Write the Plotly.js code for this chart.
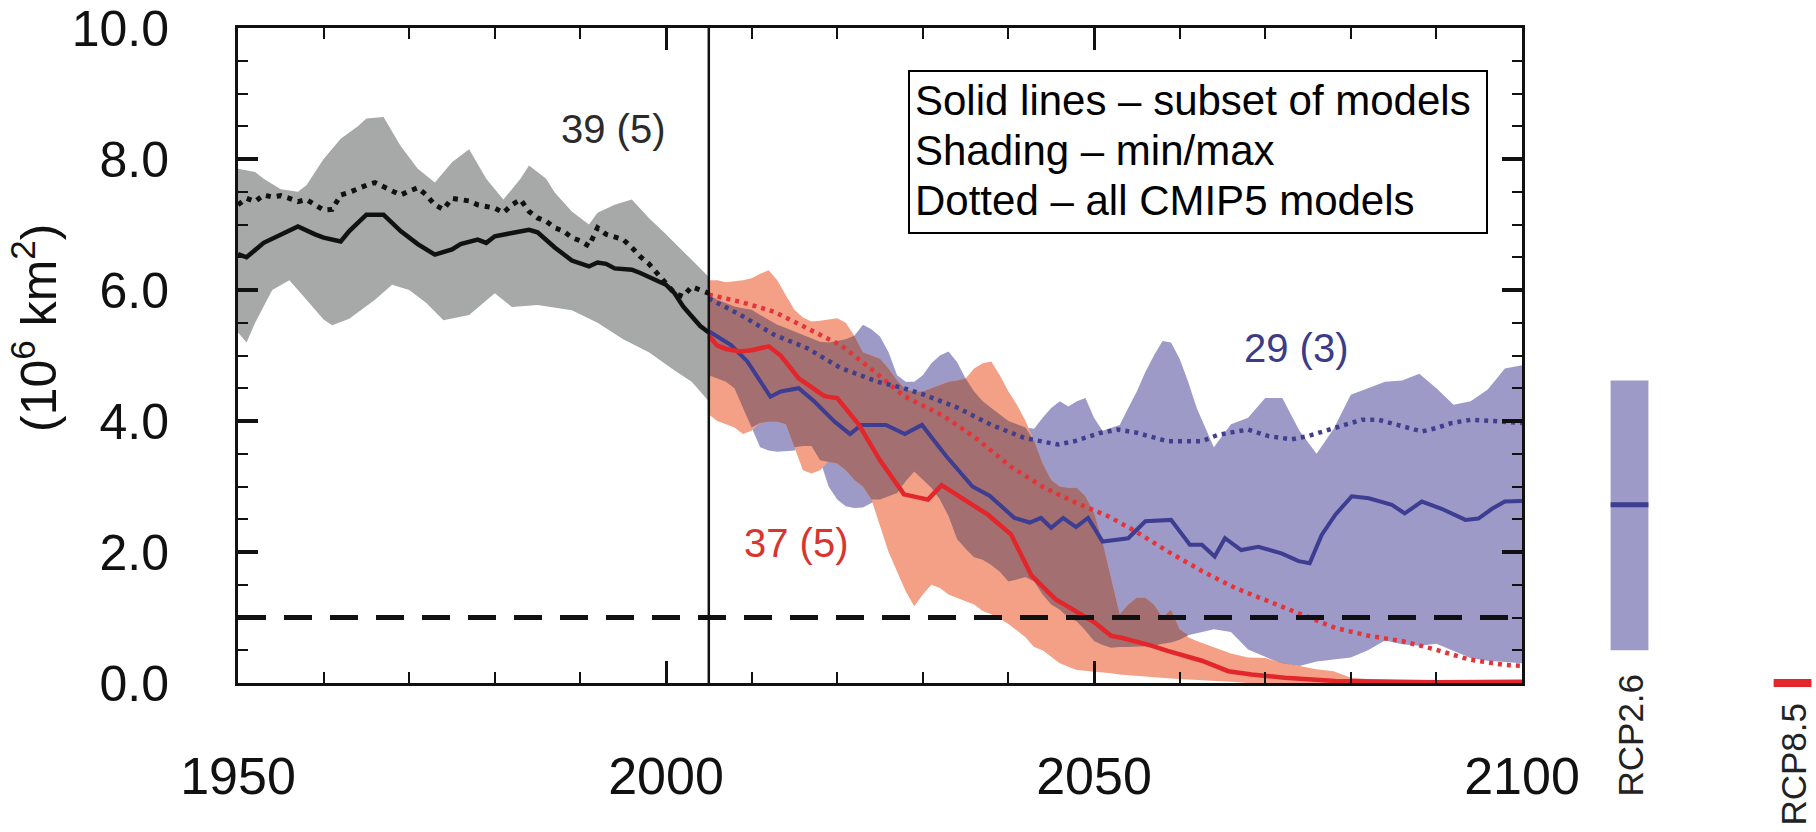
<!DOCTYPE html>
<html>
<head>
<meta charset="utf-8">
<script src="https://cdn.plot.ly/plotly-3.0.1.min.js"></script>
<style>
html,body{margin:0;padding:0;background:#ffffff;}
#chart{width:1816px;height:832px;}
</style>
</head>
<body>
<div id="chart"></div>
<script>
// ---------------- DATA ----------------
// Historical, subset-of-models mean (solid black)
const histMeanYears = [1950,1951,1953,1955,1957,1959,1960,1962,1963,1965,1967,1969,1971,1973,1975,1976,1978,1979,1980,1982,1984,1985,1987,1989,1991,1992,1993,1994,1996,1997,1998,2000,2001,2002,2003,2004,2005];
const histMean = [6.55,6.5,6.72,6.85,6.97,6.85,6.8,6.74,6.9,7.15,7.15,6.9,6.7,6.54,6.62,6.7,6.77,6.72,6.82,6.87,6.92,6.88,6.65,6.45,6.36,6.42,6.4,6.33,6.31,6.26,6.2,6.08,5.95,5.75,5.6,5.45,5.35];

// Historical, all CMIP5 models (dotted black)
const histAllYears = [1950,1951,1952,1953,1954,1955,1956,1957,1958,1959,1960,1961,1962,1963,1964,1965,1966,1967,1968,1969,1970,1971,1972,1973,1974,1975,1976,1977,1978,1979,1980,1981,1982,1983,1984,1985,1986,1987,1988,1989,1990,1991,1992,1993,1994,1995,1996,1997,1998,1999,2000,2001,2002,2003,2004,2005];
const histAll = [7.3,7.4,7.35,7.45,7.42,7.44,7.4,7.35,7.38,7.3,7.22,7.23,7.45,7.49,7.55,7.6,7.64,7.58,7.5,7.45,7.51,7.56,7.45,7.3,7.23,7.4,7.38,7.36,7.3,7.28,7.25,7.18,7.3,7.38,7.2,7.1,7.05,6.95,6.9,6.8,6.75,6.67,6.95,6.85,6.8,6.77,6.65,6.51,6.4,6.25,6.1,5.95,5.9,6.05,6.0,5.95];

// Historical min/max shading (grey)
const histUpperYears = [1950,1952,1953,1955,1957,1958,1960,1962,1964,1965,1967,1969,1971,1973,1975,1977,1979,1981,1983,1984,1986,1987,1989,1991,1992,1994,1996,1998,2000,2002,2003,2005];
const histUpper = [7.85,7.8,7.7,7.54,7.5,7.6,8.0,8.31,8.5,8.62,8.64,8.2,7.85,7.64,7.95,8.15,7.7,7.38,7.7,7.9,7.7,7.49,7.2,7.0,7.18,7.3,7.38,7.1,6.85,6.6,6.46,6.2];
const histLowerYears = [1950,1951,1952,1954,1956,1958,1960,1961,1963,1966,1968,1970,1972,1974,1977,1980,1982,1985,1989,1992,1995,1998,2001,2003,2005];
const histLower = [5.35,5.2,5.5,6.0,6.15,5.85,5.55,5.46,5.56,5.85,6.08,6.0,5.8,5.54,5.62,5.95,5.74,5.77,5.69,5.5,5.25,5.05,4.77,4.6,4.3];

// Future min/max shading, RCP8.5 (red) and RCP2.6 (blue), on common years
const futureYears = [2005,2006,2007,2008,2009,2010,2011,2012,2013,2014,2015,2016,2017,2018,2019,2020,2021,2022,2023,2024,2025,2026,2027,2028,2029,2030,2031,2032,2033,2034,2035,2036,2037,2038,2039,2040,2041,2042,2043,2044,2045,2046,2047,2048,2049,2050,2051,2052,2053,2054,2055,2056,2057,2058,2059,2060,2061,2062,2064,2066,2068,2070,2072,2074,2076,2078,2080,2082,2084,2086,2088,2090,2092,2094,2096,2098,2100];
const rcp85Max = [6.15,6.15,6.12,6.13,6.15, 6.18,6.25,6.3,6.15,5.92, 5.7,5.58,5.52,5.53,5.55, 5.57,5.5,5.3,5.05,5.0, 4.95,4.8,4.62,4.48,4.45, 4.45,4.5,4.55,4.6,4.62, 4.65,4.8,4.88,4.91,4.7, 4.45,4.25,4.0,3.7,3.35, 3.1,3.0,2.98,2.98,2.85, 2.6,2.15,1.6,1.05,1.2, 1.3,1.3,1.2,1.0,1.12, 0.82,0.7,0.64,0.54,0.45, 0.39,0.38,0.31,0.26,0.21, 0.18,0.08,0.06,0.05,0.04, 0.03,0.03,0.02,0.02,0.02, 0.02,0.02];
const rcp85Min = [4.1,4.0,3.95,3.9,3.8, 3.85,3.97,3.99,3.99,3.95, 3.6,3.25,3.2,3.25,3.38, 3.35,3.25,3.1,3.0,2.8, 2.4,2.0,1.7,1.4,1.17, 1.35,1.5,1.45,1.35,1.3, 1.25,1.2,1.1,1.05,0.98, 0.9,0.8,0.7,0.55,0.5, 0.4,0.3,0.25,0.2,0.18, 0.17,0.16,0.15,0.13,0.12, 0.1,0.09,0.08,0.08,0.07, 0.06,0.05,0.04,0.03,0.02, 0,0,0,0,0, 0,0,0,0,0, 0,0,0,0,0, 0,0];
const rcp26Max = [5.92,5.85,5.8,5.75,5.72, 5.7,5.62,5.55,5.47,5.42, 5.37,5.32,5.27,5.21,5.2, 5.22,5.25,5.3,5.47,5.4, 5.29,5.05,4.7,4.6,4.6, 4.7,4.88,5.0,5.06,4.9, 4.65,4.45,4.3,4.2,4.1, 4.0,3.95,3.9,3.88,4.05, 4.2,4.3,4.22,4.3,4.35, 4.05,3.85,3.9,3.94,4.2, 4.45,4.75,5.0,5.22,5.2, 4.95,4.6,4.2,3.6,3.95, 4.05,4.35,4.35,3.85,3.5, 3.88,4.4,4.5,4.6,4.62, 4.72,4.5,4.25,4.3,4.48, 4.8,4.85];
const rcp26Min = [4.7,4.65,4.6,4.5,4.2, 3.9,3.6,3.55,3.53,3.54, 3.55,3.62,3.62,3.4,3.0, 2.8,2.7,2.67,2.68,2.75, 2.8,2.85,2.9,3.08,3.23, 3.1,2.98,2.8,2.55,2.2, 2.05,1.92,1.88,1.8,1.7, 1.55,1.58,1.62,1.55,1.35, 1.2,1.12,1.0,0.94,0.8, 0.64,0.58,0.54,0.55,0.55, 0.55,0.56,0.57,0.6,0.62, 0.66,0.73,0.76,0.82,0.78, 0.51,0.4,0.3,0.26,0.33, 0.36,0.39,0.5,0.65,0.59, 0.57,0.6,0.49,0.38,0.34, 0.32,0.3];

// Future subset-of-models means (solid)
const rcp85MeanYears = [2005,2006,2007,2008.7,2010,2012,2013.4,2015.5,2018.5,2020,2022.5,2025,2027.8,2030.6,2032.2,2035.3,2037.6,2040.3,2042.7,2045.5,2048.5,2050,2052,2053.2,2056.7,2058.6,2062.6,2065.7,2068.4,2072.3,2078.2,2085,2090,2100];
const rcp85Mean = [5.3,5.15,5.1,5.06,5.08,5.14,5.0,4.65,4.38,4.35,3.95,3.4,2.88,2.8,3.02,2.77,2.57,2.27,1.64,1.28,1.05,0.93,0.72,0.69,0.57,0.49,0.34,0.18,0.13,0.08,0.03,0.02,0.01,0.02];
const rcp26MeanYears = [2005,2007.6,2009.5,2012.2,2013.4,2015.5,2017.3,2019.7,2021.5,2022.8,2025.7,2027.9,2029.9,2032.7,2035.8,2037.8,2040.7,2042.5,2043.8,2045,2046.4,2047.9,2049.3,2051,2054,2056,2059,2061.2,2062.6,2064.1,2065.3,2067.2,2069.2,2071.9,2073.9,2075.2,2076.6,2078.2,2080.1,2082.1,2084.8,2086.3,2088.3,2090.6,2093.4,2094.9,2096.5,2098,2100];
const rcp26Mean = [5.37,5.16,4.91,4.37,4.45,4.5,4.3,3.99,3.8,3.94,3.94,3.8,3.94,3.47,3.0,2.86,2.52,2.45,2.52,2.37,2.52,2.38,2.52,2.16,2.21,2.47,2.49,2.11,2.11,1.93,2.21,2.03,2.08,1.98,1.86,1.83,2.26,2.57,2.85,2.82,2.72,2.59,2.77,2.66,2.49,2.51,2.66,2.77,2.78];

// Future all-CMIP5 means (dotted)
const rcp85AllYears = [2005,2008.7,2012.6,2016.5,2020.4,2024.3,2027.8,2029,2032.5,2036.4,2040.3,2044.2,2048.1,2051.6,2054.8,2058.6,2062.6,2066.5,2070.4,2074.3,2078.2,2082.1,2086,2089.9,2093.8,2097.7,2100];
const rcp85All = [5.93,5.82,5.67,5.42,5.16,4.76,4.38,4.3,4.07,3.72,3.3,2.98,2.74,2.55,2.32,2.01,1.71,1.45,1.25,1.05,0.84,0.72,0.64,0.51,0.36,0.28,0.26];
const rcp26AllYears = [2005,2008.7,2012.6,2016.5,2020.4,2024.7,2027.8,2030.2,2034.1,2038,2041.9,2045.8,2047.7,2050.8,2052.8,2055,2058.6,2062.6,2064.5,2068,2070.4,2073.1,2075,2078.2,2081.3,2083.2,2086,2088.3,2089.9,2091.8,2094.1,2096.9,2100];
const rcp26All = [5.87,5.62,5.32,5.11,4.81,4.6,4.5,4.4,4.2,3.94,3.74,3.64,3.69,3.82,3.87,3.82,3.69,3.69,3.79,3.87,3.77,3.72,3.77,3.89,4.02,4.02,3.92,3.84,3.89,3.97,4.02,4.0,3.97];

// Side bars: end-of-century range and mean of the subset
const rcpLabels = ['RCP2.6','RCP8.5'];
const rcpMin = [0.5, 0.0];
const rcpMax = [4.62, 0.0];
const rcpMean = [2.72, 0.0];

// Labels
const presentYear = 2005;
const iceFreeThreshold = 1.0;
const modelCounts = [
  {text:'39 (5)', year:1993.9, value:8.46, color:'#2b2b2b'},
  {text:'29 (3)', year:2073.6, value:5.11, color:'#3c3c86'},
  {text:'37 (5)', year:2015.2, value:2.14, color:'#d8352f'}
];
const legendLines = ['Solid lines \u2013 subset of models','Shading \u2013 min/max','Dotted \u2013 all CMIP5 models'];
const yTickValues = [0,2,4,6,8,10];
const xTickValues = [1950,2000,2050,2100];

// ---------------- STYLE ----------------
const W = 1816, H = 832;
const FONT = 'Liberation Sans, Arial, Helvetica, sans-serif';
const C = {
  grey:'#a6a9a7', salmon:'#f3a086', lavender:'#9e9ac8', overlap:'#a46f70',
  black:'#111111', red:'#e3262b', blue:'#3d3d92', redDot:'#e5333a', blueDot:'#3f3f8e'
};
const px = v => v / W;           // x pixel -> paper
const py = v => 1 - v / H;       // y pixel -> paper

function band(xs, hi, xsLo, lo, color) {
  return {
    x: xs.concat(xsLo.slice().reverse()),
    y: hi.concat(lo.slice().reverse()),
    type:'scatter', mode:'lines', fill:'toself', fillcolor:color,
    line:{width:0, color:color}, hoverinfo:'skip', showlegend:false
  };
}
const ovHi = futureYears.map((_, i) => Math.min(rcp85Max[i], rcp26Max[i]));
const ovLo = futureYears.map((_, i) => Math.max(rcp85Min[i], rcp26Min[i]));
const ovHiC = ovHi.map((v, i) => Math.max(v, ovLo[i]));

function line(xs, ys, color, width, dash) {
  return {x:xs, y:ys, type:'scatter', mode:'lines', line:{color:color, width:width, dash:dash||'solid'}, hoverinfo:'skip', showlegend:false};
}

const traces = [
  band(histUpperYears, histUpper, histLowerYears, histLower, C.grey),
  band(futureYears, rcp26Max, futureYears, rcp26Min, C.lavender),
  band(futureYears, rcp85Max, futureYears, rcp85Min, C.salmon),
  band(futureYears, ovHiC, futureYears, ovLo, C.overlap),
  line(histAllYears, histAll, C.black, 5, '5px,6px'),
  line(rcp85AllYears, rcp85All, C.redDot, 4.5, '4px,5px'),
  line(rcp26AllYears, rcp26All, C.blueDot, 4.5, '4px,5px'),
  line(histMeanYears, histMean, C.black, 4.5),
  line(rcp26MeanYears, rcp26Mean, C.blue, 4),
  line(rcp85MeanYears, rcp85Mean, C.red, 4.5),
  {
    x: rcpLabels, y: rcpMax.map((v, i) => v - rcpMin[i]), base: rcpMin,
    type:'bar', xaxis:'x2', yaxis:'y', width:0.232,
    marker:{color:[C.lavender, C.red], line:{width:0}}, hoverinfo:'skip', showlegend:false
  },
  {
    x: rcpLabels, y: rcpMean, type:'scatter', mode:'markers', xaxis:'x2', yaxis:'y',
    marker:{symbol:'line-ew', size:27, line:{width:[5, 8], color:[C.blue, C.red]}},
    hoverinfo:'skip', showlegend:false, cliponaxis:false
  }
];

const annotations = [
  {text:'(10<sup>6</sup> km<sup>2</sup>)', xref:'paper', yref:'paper', x:px(35), y:py(328),
   textangle:-90, showarrow:false, xanchor:'center', yanchor:'middle',
   font:{family:FONT, size:50, color:'#111'}}
].concat(modelCounts.map(m => ({
  text:m.text, x:m.year, y:m.value, xref:'x', yref:'y', showarrow:false,
  xanchor:'center', yanchor:'middle', font:{family:FONT, size:40, color:m.color}
}))).concat(legendLines.map((t, i) => ({
  text:t, xref:'paper', yref:'paper', x:px(913), y:py(101 + i * 49.5), showarrow:false,
  xanchor:'left', yanchor:'middle', font:{family:FONT, size:42, color:'#000'}
}))).concat(rcpLabels.map((t, i) => ({
  text:t, xref:'x2', yref:'paper', x:t, y:py([735, 764][i]), showarrow:false,
  textangle:-90, xanchor:'center', yanchor:'middle', font:{family:FONT, size:35, color:'#222'}
})));

const shapes = [
  {type:'line', xref:'x', yref:'y', x0:1950, x1:2100, y0:iceFreeThreshold, y1:iceFreeThreshold,
   line:{color:'#111', width:5, dash:'28px,18px'}},
  {type:'line', xref:'x', yref:'y', x0:presentYear, x1:presentYear, y0:0, y1:10,
   line:{color:'#111', width:2.5}},
  {type:'rect', xref:'paper', yref:'paper', x0:px(909), x1:px(1487), y0:py(233), y1:py(71),
   line:{color:'#000', width:2}, fillcolor:'#ffffff'}
];

const axisLine = {showline:true, linecolor:'#111', linewidth:3, mirror:'ticks', showgrid:false, zeroline:false,
  ticks:'inside', tickcolor:'#111', automargin:false, fixedrange:true};

const layout = {
  width:W, height:H, autosize:false,
  margin:{l:0, r:0, t:0, b:0, pad:0},
  paper_bgcolor:'#ffffff', plot_bgcolor:'#ffffff',
  showlegend:false,
  xaxis: Object.assign({}, axisLine, {
    domain:[px(238), px(1522)], range:[1950, 2100], anchor:'y',
    tickmode:'array', tickvals:xTickValues, ticktext:xTickValues.map(String),
    ticklen:22, tickwidth:3, ticklabelstandoff:46,
    tickfont:{family:FONT, size:52, color:'#111'},
    minor:{dtick:10, tick0:1950, ticks:'inside', ticklen:11, tickwidth:2, tickcolor:'#111', showgrid:false}
  }),
  yaxis: Object.assign({}, axisLine, {
    domain:[py(683), py(28)], range:[0, 10], anchor:'x',
    tickmode:'array', tickvals:yTickValues, ticktext:yTickValues.map(v => v.toFixed(1)),
    ticklen:20, tickwidth:4, ticklabelstandoff:56,
    tickfont:{family:FONT, size:50, color:'#111'},
    minor:{dtick:0.5, tick0:0, ticks:'inside', ticklen:10, tickwidth:2, tickcolor:'#111', showgrid:false}
  }),
  xaxis2: {domain:[0.85, 1], anchor:'y', type:'category', categoryorder:'array', categoryarray:rcpLabels,
    range:[-0.527, 1.144], visible:false, fixedrange:true},
  annotations: annotations,
  shapes: shapes
};

Plotly.newPlot('chart', traces, layout, {staticPlot:true, displayModeBar:false});
</script>
</body>
</html>
